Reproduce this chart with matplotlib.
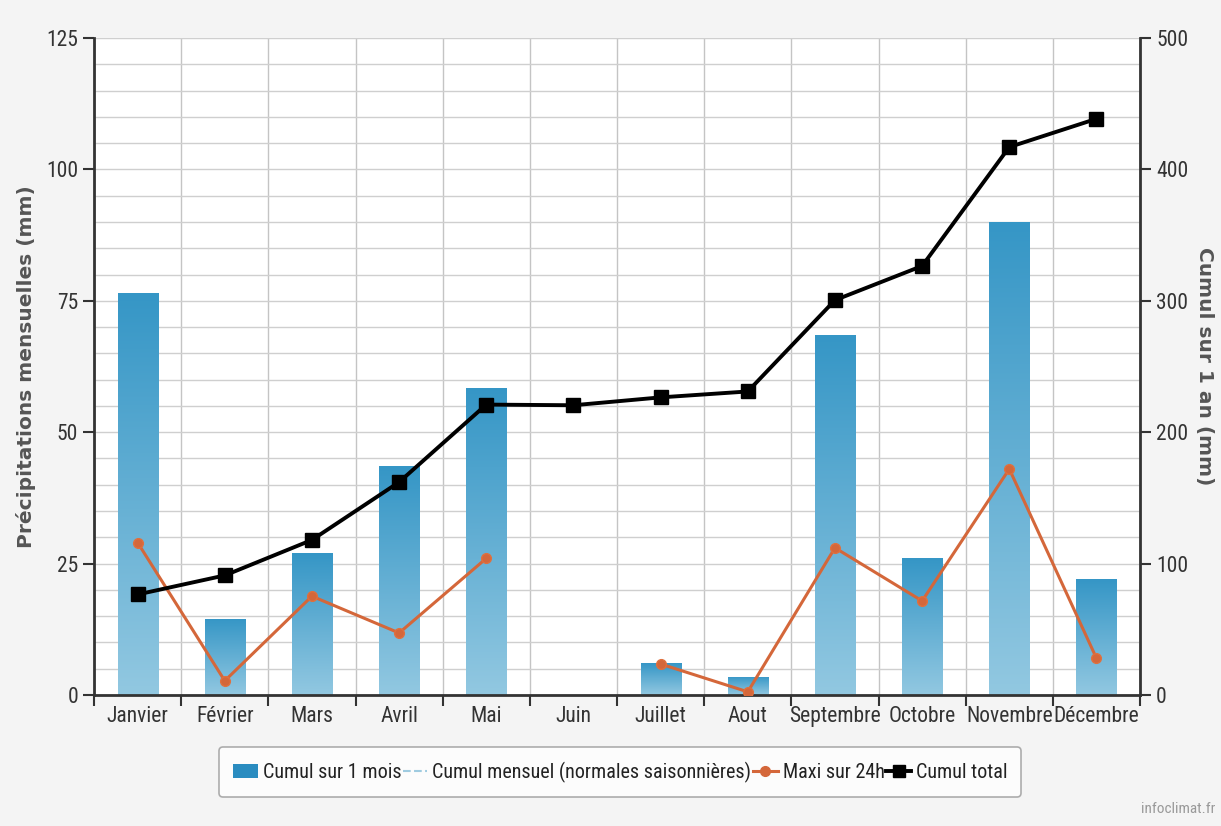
import matplotlib
matplotlib.use("Agg")
from matplotlib import pyplot as plt
from matplotlib import font_manager
from matplotlib.lines import Line2D
from matplotlib.patches import Patch
from matplotlib.colors import LinearSegmentedColormap
import numpy as np

mois = ["Janvier", "Février", "Mars", "Avril", "Mai", "Juin", "Juillet",
        "Aout", "Septembre", "Octobre", "Novembre", "Décembre"]

# précipitations du mois (mm)
cumul_mois = [76.5, 14.5, 27.0, 43.5, 58.5, 0.0, 6.0, 3.5, 68.5, 26.0, 90.0, 22.0]
# maximum en 24h (mm), pas de valeur en juin
maxi_24h = [29.0, 2.7, 18.8, 11.8, 26.0, np.nan, 5.9, 0.6, 28.0, 17.9, 43.0, 7.0]
# cumul depuis le début de l'année (mm)
cumul_total = [76.5, 91.0, 118.0, 162.0, 221.0, 220.5, 226.5, 231.0, 300.5, 326.5, 417.0, 438.5]

# police étroite si disponible
installed = {f.name for f in font_manager.fontManager.ttflist}
narrow = "DejaVu Sans"
for cand in ["Liberation Sans Narrow", "DejaVu Sans Condensed", "Roboto Condensed", "Roboto"]:
    if cand in installed:
        narrow = cand
        break
stretch = "condensed" if narrow == "DejaVu Sans" else "normal"
txt_col = "#333333"

fig = plt.figure(figsize=(12.21, 8.26), dpi=100)
fig.patch.set_facecolor("#f4f4f4")
ax = fig.add_axes([0.077, 0.1586, 0.8567, 0.7954])
ax.set_facecolor("white")
x = np.arange(len(mois))

# barres avec dégradé vertical
cmap = LinearSegmentedColormap.from_list("bleu", ["#92c8e1", "#3596c6"])
grad = np.linspace(0, 1, 256).reshape(-1, 1)
bars = ax.bar(x, cumul_mois, width=0.46, color="none", edgecolor="none", zorder=2)
for b in bars:
    if b.get_height() <= 0:
        continue
    im = ax.imshow(grad, cmap=cmap, origin="lower", aspect="auto", zorder=2,
                   extent=[b.get_x(), b.get_x() + b.get_width(), 0, b.get_height()])
    im.set_clip_path(b)

ax.plot(x, maxi_24h, color="#d4673a", lw=2.2, marker="o", ms=7,
        markeredgecolor="#e0703e", zorder=4)

ax.set_xlim(-0.5, len(mois) - 0.5)
ax.set_ylim(0, 125)
ax.set_yticks(np.arange(0, 126, 25))
ax.set_yticks(np.arange(0, 126, 5), minor=True)
ax.set_xticks(x)
ax.set_xticklabels(mois)
ax.set_xticks(np.arange(-0.5, len(mois), 1), minor=True)

ax.grid(axis="y", which="both", color="#cfcfcf", lw=1.0, zorder=0)
ax.grid(axis="x", which="minor", color="#c4c4c4", lw=1.0, zorder=0)
ax.set_axisbelow(True)

ax.tick_params(axis="x", which="major", length=0, pad=8, labelsize=15.5, labelcolor=txt_col)
ax.tick_params(axis="x", which="minor", length=8, width=1.5, color="#333333")
ax.tick_params(axis="y", which="major", length=8, width=1.5, labelsize=15.5,
               labelcolor=txt_col, color="#333333")
ax.tick_params(axis="y", which="minor", length=0)
for lab in ax.get_xticklabels() + ax.get_yticklabels():
    lab.set_family(narrow)
    lab.set_stretch(stretch)

for s in ["top", "right"]:
    ax.spines[s].set_visible(False)
ax.spines["left"].set_color("#333333")
ax.spines["left"].set_linewidth(2)
ax.spines["bottom"].set_color("#333333")
ax.spines["bottom"].set_linewidth(2)

ax.set_ylabel("Précipitations mensuelles (mm)", fontsize=14.5, fontweight="bold",
              color="#555555", family="DejaVu Sans")
ax.yaxis.set_label_coords(-0.055, 0.5)

# axe de droite : cumul annuel
ax2 = ax.twinx()
ax2.plot(x, cumul_total, color="black", lw=2.8, marker="s", ms=10, zorder=5)
ax2.set_ylim(0, 500)
ax2.set_yticks(np.arange(0, 501, 100))
ax2.tick_params(axis="y", length=8, width=1.5, labelsize=15.5, labelcolor=txt_col,
                color="#333333")
for lab in ax2.get_yticklabels():
    lab.set_family(narrow)
    lab.set_stretch(stretch)
for s in ["top", "left", "bottom"]:
    ax2.spines[s].set_visible(False)
ax2.spines["right"].set_color("#333333")
ax2.spines["right"].set_linewidth(2)
ax2.set_ylabel("Cumul sur 1 an (mm)", fontsize=14.5, fontweight="bold",
               color="#555555", rotation=-90, va="center", family="DejaVu Sans")
ax2.yaxis.set_label_coords(1.062, 0.5)

handles = [
    Patch(facecolor="#2a8cc0", edgecolor="none"),
    Line2D([], [], color="#9fcbe0", lw=1.5, ls="--"),
    Line2D([], [], color="#d4673a", lw=2.2, marker="o", ms=7),
    Line2D([], [], color="black", lw=2.8, marker="s", ms=9),
]
labels = ["Cumul sur 1 mois", "Cumul mensuel (normales saisonnières)",
          "Maxi sur 24h", "Cumul total"]
leg = fig.legend(handles, labels, loc="center", bbox_to_anchor=(0.508, 0.0654),
                 ncol=4, frameon=True, fancybox=True, handlelength=1.2,
                 handletextpad=0.25, columnspacing=0.1, borderpad=0.7,
                 prop={"family": narrow, "stretch": stretch, "size": 14.5})
leg.get_frame().set_edgecolor("#999999")
leg.get_frame().set_facecolor("white")
leg.get_frame().set_linewidth(1.2)
for t in leg.get_texts():
    t.set_color("#222222")

fig.text(0.995, 0.012, "infoclimat.fr", ha="right", va="bottom", color="#999999",
         fontsize=11, family=narrow, stretch=stretch)

fig.savefig("out.png", dpi=100, facecolor=fig.get_facecolor())
